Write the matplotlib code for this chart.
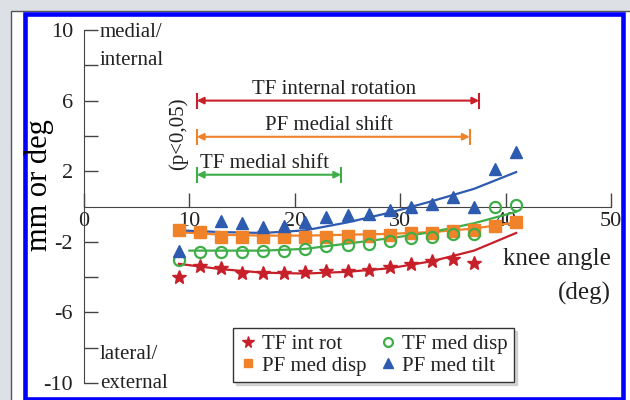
"""Desplazamientos tibiofemoral / patelofemoral frente al angulo de rodilla."""
import matplotlib
matplotlib.use("Agg")
import matplotlib.pyplot as plt
from matplotlib.patches import Rectangle

plt.rcParams.update({
    "font.family": ["Liberation Serif", "DejaVu Serif"],
    "font.size": 15,
    "axes.unicode_minus": False,
    "text.color": "#222222",
    "axes.edgecolor": "#444444",
    "xtick.color": "#444444", "ytick.color": "#444444",
    "xtick.labelcolor": "#222222", "ytick.labelcolor": "#222222",
})

RED = "#c8202a"
ORANGE = "#f0822a"
GREEN = "#3fae49"
BLUE = "#2d5bb0"

# datos (grados de flexion)
angle = [9, 11, 13, 15, 17, 19, 21, 23, 25, 27, 29, 31, 33, 35, 37, 39, 41]
angle_rot = [9, 11, 13, 15, 17, 19, 21, 23, 25, 27, 29, 31, 33, 35, 37]
angle_tilt = [9, 13, 15, 17, 19, 21, 23, 25, 27, 29, 31, 33, 35, 37, 39, 41]

tf_int_rot = [-4.0, -3.35, -3.5, -3.75, -3.75, -3.75, -3.7, -3.65, -3.65,
              -3.6, -3.4, -3.25, -3.1, -3.0, -3.2]
pf_med_disp = [-1.35, -1.45, -1.75, -1.75, -1.75, -1.7, -1.7, -1.7, -1.65,
               -1.65, -1.6, -1.5, -1.5, -1.4, -1.35, -1.1, -0.9]
tf_med_disp = [-3.05, -2.55, -2.55, -2.55, -2.5, -2.5, -2.4, -2.25, -2.2,
               -2.1, -1.95, -1.8, -1.7, -1.55, -1.55, 0.0, 0.1]
pf_med_tilt = [-2.5, -0.8, -0.95, -1.15, -1.1, -0.85, -0.6, -0.5, -0.4,
               -0.2, 0.0, 0.15, 0.55, 0.0, 2.15, 3.1]

# lineas de tendencia
fit_angle = [9, 13, 17, 21, 25, 29, 33, 37, 41]
fit_angle_green = [10, 13, 17, 21, 25, 29, 33, 37, 41]
fit_tf_int_rot = [-3.25, -3.55, -3.75, -3.8, -3.7, -3.5, -3.1, -2.5, -1.5]
fit_pf_med_disp = [-1.45, -1.6, -1.65, -1.65, -1.6, -1.55, -1.45, -1.25, -0.9]
fit_tf_med_disp = [-2.5, -2.5, -2.5, -2.4, -2.1, -1.8, -1.45, -0.95, -0.3]
fit_pf_med_tilt = [-1.35, -1.45, -1.5, -1.35, -0.9, -0.35, 0.3, 1.0, 1.95]

# rangos significativos (p<0,05)
sig_labels = ["TF internal rotation", "PF medial shift", "TF medial shift"]
sig_start = [10.7, 10.7, 10.7]
sig_end = [37.5, 36.6, 24.4]
sig_level = [6.0, 3.95, 1.8]
sig_colors = [RED, ORANGE, GREEN]

fig = plt.figure(figsize=(6.3, 4.0), dpi=100, facecolor="#dde1e6")
# marco del panel (detras de los ejes)
fig.patches.append(Rectangle((11 / 630, -0.1), 1.2, 1 - 10.5 / 400 + 0.1,
                             transform=fig.transFigure, facecolor="white",
                             edgecolor="#555555", lw=1.0, zorder=-10))
fig.patches.append(Rectangle((24.5 / 630, 1.5 / 400), 598 / 630, 384.5 / 400,
                             transform=fig.transFigure, facecolor="white",
                             edgecolor="#0000ff", lw=3.3, zorder=-9))

ax = fig.add_axes([84 / 630, 17 / 400, 527 / 630, 353 / 400])
ax.patch.set_visible(False)

ax.plot(fit_angle, fit_tf_int_rot, color=RED, lw=1.6, zorder=2)
ax.plot(fit_angle, fit_pf_med_disp, color=ORANGE, lw=1.6, zorder=2)
ax.plot(fit_angle_green, fit_tf_med_disp, color=GREEN, lw=1.6, zorder=2)
ax.plot(fit_angle, fit_pf_med_tilt, color=BLUE, lw=1.6, zorder=2)

h1, = ax.plot(angle_rot, tf_int_rot, ls="none", marker="*", ms=10.5, color=RED,
              label="TF int rot", zorder=3)
h2, = ax.plot(angle, pf_med_disp, ls="none", marker="s", ms=8, color=ORANGE,
              label="PF med disp", zorder=3)
h3, = ax.plot(angle, tf_med_disp, ls="none", marker="o", ms=8, mfc="none",
              mec=GREEN, mew=1.6, label="TF med disp", zorder=3)
h4, = ax.plot(angle_tilt, pf_med_tilt, ls="none", marker="^", ms=9, color=BLUE,
              label="PF med tilt", zorder=3)

for lab, x0, x1, y, c in zip(sig_labels, sig_start, sig_end, sig_level, sig_colors):
    ax.annotate("", xy=(x1, y), xytext=(x0, y),
                arrowprops=dict(arrowstyle="<|-|>", color=c, lw=1.5,
                                mutation_scale=10, shrinkA=0, shrinkB=0))
    ax.plot([x0, x1], [y, y], ls="none", marker="|", ms=11, mew=1.5, color=c)
    ax.text((x0 + x1) / 2 - 0.4, y + 0.62, lab, ha="center", va="center", fontsize=15)

ax.text(8.9, 4.15, "(p<0,05)", rotation=90, ha="center", va="center", fontsize=15)

ax.set_xlim(0, 50)
ax.set_ylim(-10, 10)
for s in ("top", "right"):
    ax.spines[s].set_visible(False)
ax.spines["bottom"].set_position(("data", 0))
ax.spines["left"].set_position(("data", 0))
ax.set_xticks([0, 10, 20, 30, 40, 50])
ax.set_yticks([-10, -6, -2, 2, 6, 10])
ax.set_yticks([-8, -4, 4, 8], minor=True)
ax.tick_params(axis="both", which="both", direction="in", length=10, width=1,
               labelsize=16)
ax.tick_params(axis="y", pad=8)
ax.tick_params(axis="x", pad=4)

ax.set_ylabel("mm or deg", fontsize=22)
ax.yaxis.set_label_coords(-0.056, 0.56)

ax.text(1.5, 9.85, "medial/", ha="left", va="center", fontsize=15)
ax.text(1.5, 8.25, "internal", ha="left", va="center", fontsize=15)
ax.text(1.5, -8.4, "lateral/", ha="left", va="center", fontsize=15)
ax.text(1.5, -10.0, "external", ha="left", va="center", fontsize=15)
ax.text(50, -2.95, "knee angle", ha="right", va="center", fontsize=18)
ax.text(50, -4.95, "(deg)", ha="right", va="center", fontsize=18)

leg = ax.legend(handles=[h1, h2, h3, h4], ncol=2, loc="lower left",
                bbox_to_anchor=(0.283, 0.003), borderaxespad=0, fontsize=15,
                frameon=True, fancybox=False, edgecolor="#333333",
                handlelength=0.8, handletextpad=0.3, columnspacing=0.6,
                labelspacing=0.1, borderpad=0.3, markerscale=0.8,
                shadow={"color": "0.7"})
leg.get_frame().set_linewidth(1.0)

fig.savefig("out.png", dpi=100, facecolor=fig.get_facecolor())
